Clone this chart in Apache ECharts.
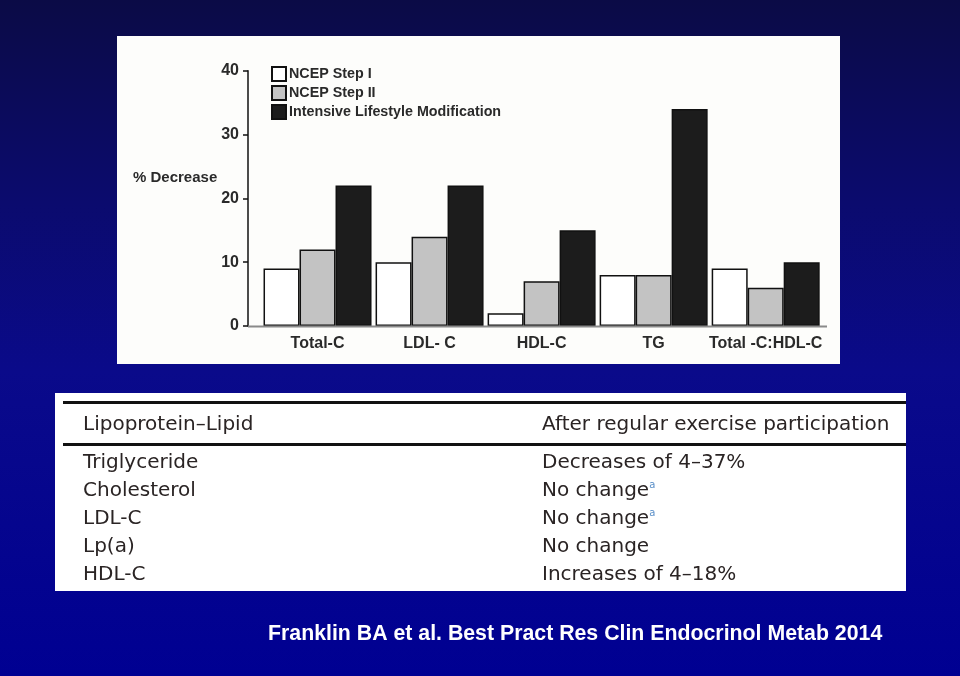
<!DOCTYPE html>
<html>
<head>
<meta charset="utf-8">
<script src="https://cdn.jsdelivr.net/npm/echarts@6/dist/echarts.min.js"></script>
<style>
html,body{margin:0;padding:0;width:960px;height:676px;overflow:hidden;
background:linear-gradient(to bottom,#0b0b46 0%,#0b0b6e 30%,#0a0a8a 55%,#000092 100%);}
#c{width:960px;height:676px;}
</style>
</head>
<body>
<div id="c"></div>
<script>
const categories = ['Total-C', 'LDL- C', 'HDL-C', 'TG', 'Total -C:HDL-C'];
const seriesNames = ['NCEP Step I', 'NCEP Step II', 'Intensive Lifestyle Modification'];
const stepI = [9, 10, 2, 8, 9];
const stepII = [12, 14, 7, 8, 6];
const intensive = [22, 22, 15, 34, 10];
const yTicks = [0, 10, 20, 30, 40];
const yAxisTitle = '% Decrease';

const tableHeader = ['Lipoprotein\u2013Lipid', 'After regular exercise participation'];
const tableLipids = ['Triglyceride', 'Cholesterol', 'LDL-C', 'Lp(a)', 'HDL-C'];
const tableEffects = ['Decreases of 4\u201337%', 'No change', 'No change', 'No change', 'Increases of 4\u201318%'];
const tableNotes = ['', 'a', 'a', '', ''];
const citation = 'Franklin BA et al. Best Pract Res Clin Endocrinol Metab 2014';

const chart = echarts.init(document.getElementById('c'), null, {renderer: 'canvas'});

const fills = ['#ffffff', '#c3c3c3', '#1c1c1c'];
const dataSets = [stepI, stepII, intensive];

const sansBold = '"Liberation Sans", Arial, sans-serif';
const tableFont = '"DejaVu Sans", sans-serif';
const tableColor = '#2a2424';
const rowY0 = 463, rowStep = 28;

const graphics = [
  {type: 'rect', z: -10, shape: {x: 117, y: 36, width: 723, height: 328}, style: {fill: '#fdfdfb'}},
  {type: 'rect', z: -10, shape: {x: 55, y: 393, width: 851, height: 198}, style: {fill: '#ffffff'}},
  {type: 'line', z: 5, shape: {x1: 248, y1: 326.5, x2: 827, y2: 326.5}, style: {stroke: '#8a8a8a', lineWidth: 2}},
  {type: 'text', z: 10, x: 133, y: 178, style: {text: yAxisTitle, font: 'bold 15px ' + sansBold, fill: '#2a2a2a', verticalAlign: 'middle'}},
  {type: 'line', z: 5, shape: {x1: 63, y1: 402.5, x2: 906, y2: 402.5}, style: {stroke: '#111', lineWidth: 3}},
  {type: 'line', z: 5, shape: {x1: 63, y1: 444.5, x2: 906, y2: 444.5}, style: {stroke: '#111', lineWidth: 3}},
  {type: 'text', z: 10, x: 83, y: 425, style: {text: tableHeader[0], font: '20px ' + tableFont, fill: tableColor, verticalAlign: 'middle'}},
  {type: 'text', z: 10, x: 542, y: 425, style: {text: tableHeader[1], font: '20px ' + tableFont, fill: tableColor, verticalAlign: 'middle'}},
  {type: 'text', z: 10, x: 268, y: 634, style: {text: citation, font: 'bold 21.3px ' + sansBold, fill: '#ffffff', verticalAlign: 'middle'}}
];
tableLipids.forEach((t, i) => {
  graphics.push({type: 'text', z: 10, x: 83, y: rowY0 + i * rowStep,
    style: {text: t, font: '20px ' + tableFont, fill: tableColor, verticalAlign: 'middle'}});
});
tableEffects.forEach((t, i) => {
  const txt = tableNotes[i] ? t + '{sup|' + tableNotes[i] + '}' : t;
  graphics.push({type: 'text', z: 10, x: 542, y: rowY0 + i * rowStep,
    style: {text: txt, font: '20px ' + tableFont, fill: tableColor, verticalAlign: 'middle',
      rich: {sup: {fontSize: 10, fontFamily: tableFont, fill: '#5a8fc8', verticalAlign: 'top', padding: [0, 0, 12, 0]}}}});
});

chart.setOption({
  backgroundColor: 'transparent',
  animation: false,
  grid: {left: 261.5, right: 138.3, top: 70.7, bottom: 350, containLabel: false},
  legend: {
    orient: 'vertical', left: 266, top: 61, itemWidth: 14, itemHeight: 14, itemGap: 3,
    icon: 'rect',
    textStyle: {fontFamily: sansBold, fontWeight: 'bold', fontSize: 14.3, color: '#2a2a2a', padding: [0, 0, 0, -2]},
    data: seriesNames
  },
  xAxis: {
    type: 'category', data: categories,
    axisLine: {show: false}, axisTick: {show: false},
    axisLabel: {interval: 0, margin: 10, fontFamily: sansBold, fontWeight: 'bold', fontSize: 16, color: '#2a2a2a'}
  },
  yAxis: {
    type: 'value', min: yTicks[0], max: yTicks[yTicks.length - 1], interval: 10, offset: 13.5,
    splitLine: {show: false},
    axisLine: {show: true, lineStyle: {color: '#111', width: 1.5}},
    axisTick: {show: true, length: 5, lineStyle: {color: '#111', width: 1.5}},
    axisLabel: {margin: 9, fontFamily: sansBold, fontWeight: 'bold', fontSize: 16, color: '#2a2a2a'}
  },
  series: seriesNames.map((n, i) => ({
    name: n, type: 'bar', data: dataSets[i], barWidth: 36, barGap: '0%',
    itemStyle: {color: fills[i], borderColor: '#111', borderWidth: 1.5}
  })),
  graphic: graphics
});
</script>
</body>
</html>
